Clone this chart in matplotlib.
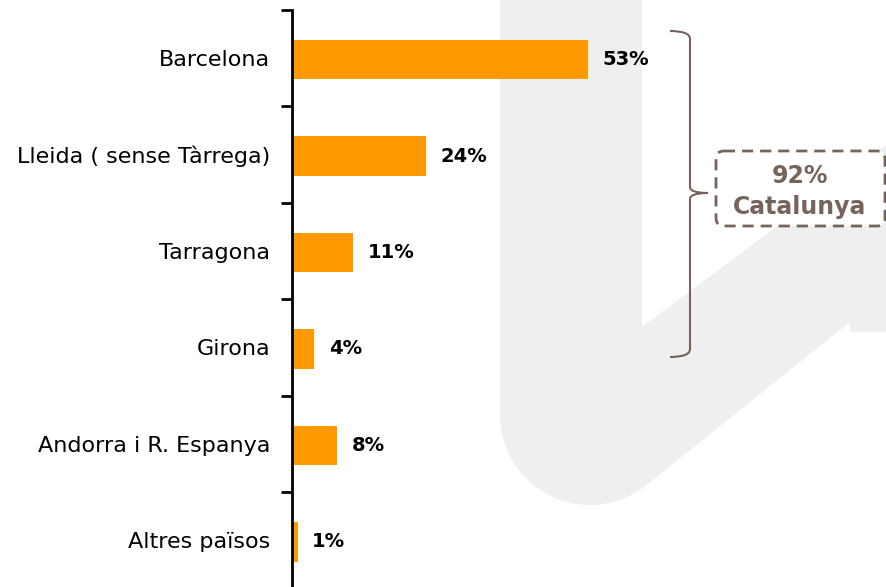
"""
Horizontal bar chart: origin of visitors (% per area), with a brace grouping
the Catalan provinces and a light watermark shape behind the bars.
"""

import numpy as np
import matplotlib
matplotlib.use("Agg")
import matplotlib.pyplot as plt
from matplotlib.patches import Polygon, FancyBboxPatch, PathPatch
from matplotlib.path import Path

# data
categories = ["Barcelona", "Lleida ( sense Tàrrega)", "Tarragona", "Girona",
              "Andorra i R. Espanya", "Altres països"]
values = [53, 24, 11, 4, 8, 1]
group_value = 92
group_label = "Catalunya"

ORANGE = "#ff9900"
BROWN = "#76645a"
WATERMARK = "#efefef"

W, H = 886, 587


def px_axes(fig, zorder):
    """Axes covering the whole figure, in pixel coords with y going down."""
    a = fig.add_axes([0, 0, 1, 1], zorder=zorder)
    a.set_xlim(0, W)
    a.set_ylim(H, 0)
    a.axis("off")
    a.patch.set_visible(False)
    return a


def main():
    fig = plt.figure(figsize=(W / 100, H / 100), dpi=100)

    # background watermark (rounded "check" shape)
    bg = px_axes(fig, 0)
    cx, cy, r = 590, 415, 90
    ang = np.radians(np.linspace(180, 51.3, 30))
    arc = np.column_stack([cx + r * np.cos(ang), cy + r * np.sin(ang)])
    pts = np.vstack([[[500, 0], [642, 0], [642, 327], [886, 145],
                      [886, 332], [850, 332], [850, 322]],
                     arc[::-1],
                     [[500, 0]]])
    bg.add_patch(Polygon(pts, closed=True, facecolor=WATERMARK,
                         edgecolor="none"))

    # main bar chart
    left = 292 / W
    top = (H - 10) / H
    ax = fig.add_axes([left, -1.5 / H, 1 - left, top + 1.5 / H], zorder=1)
    ax.patch.set_visible(False)
    y = np.arange(len(categories))
    ax.barh(y + 0.015, values, height=0.41, color=ORANGE)
    ax.set_ylim(len(categories) - 0.5, -0.5)
    ax.set_xlim(0, (W - 292) / 5.585)

    for s in ["top", "right", "bottom"]:
        ax.spines[s].set_visible(False)
    ax.spines["left"].set_linewidth(2)
    ax.set_xticks([])
    ax.set_yticks(np.arange(-0.5, len(categories), 1.0))
    ax.set_yticklabels([])
    ax.set_yticks(y, minor=True)
    ax.set_yticklabels(categories, minor=True, fontsize=16,
                       family="DejaVu Sans")
    ax.tick_params(axis="y", which="major", length=8, width=2, direction="out")
    ax.tick_params(axis="y", which="minor", length=0, pad=15.5)

    for yi, v in zip(y, values):
        ax.annotate(f"{v}%", (v, yi + 0.015), xytext=(10.5, 0),
                    textcoords="offset points", va="center", ha="left",
                    fontsize=14, fontweight="bold", color="black")

    # brace + dashed box
    ov = px_axes(fig, 2)
    verts = [(670, 31), (690, 31), (690, 39),
             (690, 187), (690, 193), (708, 193),
             (690, 193), (690, 199),
             (690, 349), (690, 357), (670, 357)]
    codes = [Path.MOVETO, Path.CURVE3, Path.CURVE3,
             Path.LINETO, Path.CURVE3, Path.CURVE3,
             Path.CURVE3, Path.CURVE3,
             Path.LINETO, Path.CURVE3, Path.CURVE3]
    ov.add_patch(PathPatch(Path(verts, codes), facecolor="none",
                           edgecolor=BROWN, linewidth=1.5))

    box = FancyBboxPatch((724, 159), 153, 59, boxstyle="round,pad=8",
                         facecolor="white", edgecolor=BROWN, linewidth=2,
                         linestyle=(0, (4, 2.5)))
    ov.add_patch(box)
    ov.text(800, 176, f"{group_value}%", ha="center", va="center",
            fontsize=17, fontweight="bold", color=BROWN)
    ov.text(800, 207, group_label, ha="center", va="center",
            fontsize=17, fontweight="bold", color=BROWN)

    fig.savefig("out.png", dpi=100)


if __name__ == "__main__":
    main()
